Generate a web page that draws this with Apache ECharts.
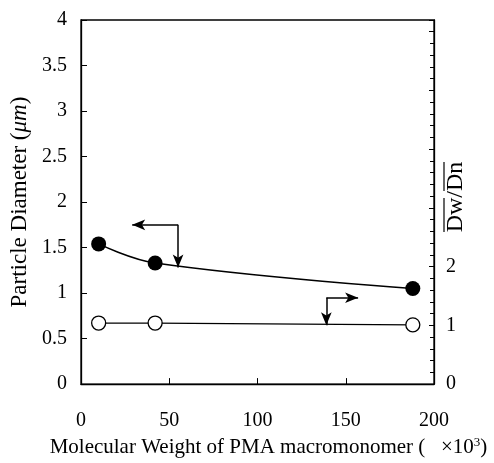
<!DOCTYPE html>
<html>
<head>
<meta charset="utf-8">
<script src="https://cdn.jsdelivr.net/npm/echarts@6/dist/echarts.min.js"></script>
<style>
  html, body { margin: 0; padding: 0; background: #fff; }
  #chart { width: 494px; height: 463px; }
</style>
</head>
<body>
<div id="chart"></div>
<script>
// 読み取った値
const molWeight = [10, 42, 188];          // x (×10^3)
const diameter = [1.54, 1.33, 1.05];      // 左軸 Particle Diameter (μm)
const dwdn = [1.04, 1.04, 1.01];          // 右軸 Dw/Dn
const leftTicks = [0, 4, 0.5];            // min, max, interval
const rightTicks = [0, 6.2, 1];
const rightShown = [0, 1, 2];

// 矢印（データ座標）
const arrowLeft = [[55, 1.75], [29, 1.75], [55, 1.28]];
const arrowRight = [[139, 1.47], [157, 1.47], [139, 1.0]];

const font = 'Liberation Serif';
const chart = echarts.init(document.getElementById('chart'));

function arrowLines(pts) {
  return [
    [{ coord: pts[0], symbol: 'none' }, { coord: pts[1], symbol: 'arrow' }],
    [{ coord: pts[0], symbol: 'none' }, { coord: pts[2], symbol: 'arrow' }]
  ];
}

const option = {
  animation: false,
  grid: { left: 81, right: 60, top: 20, bottom: 77, show: true, borderColor: '#000', borderWidth: 1.3 },
  xAxis: {
    type: 'value', min: 0, max: 200, interval: 50,
    splitLine: { show: false },
    axisLine: { lineStyle: { color: '#000', width: 1.3 } },
    axisTick: { inside: true, length: 6, lineStyle: { color: '#000' } },
    axisLabel: { color: '#000', fontFamily: font, fontSize: 20, margin: 27 },
    name: 'Molecular Weight of PMA macromonomer (   ×10{s|3})',
    nameLocation: 'middle', nameGap: 49,
    nameTextStyle: {
      color: '#000', fontFamily: font, fontSize: 21, padding: [0, 0, 0, 22],
      rich: { s: { fontFamily: font, fontSize: 13, verticalAlign: 'top', padding: [0, 0, 10, 0] } }
    }
  },
  yAxis: [{
    type: 'value', min: leftTicks[0], max: leftTicks[1], interval: leftTicks[2],
    splitLine: { show: false },
    axisLine: { lineStyle: { color: '#000', width: 1.3 } },
    axisTick: { inside: true, length: 6, lineStyle: { color: '#000' } },
    axisLabel: { color: '#000', fontFamily: font, fontSize: 20, margin: 14 },
    name: 'Particle Diameter ({i|μm})',
    nameLocation: 'middle', nameRotate: 90, nameGap: 46,
    nameTextStyle: {
      color: '#000', fontFamily: font, fontSize: 23,
      rich: { i: { fontFamily: font, fontSize: 23, fontStyle: 'italic', color: '#000' } }
    }
  }, {
    type: 'value', position: 'right', min: rightTicks[0], max: rightTicks[1], interval: rightTicks[2],
    splitLine: { show: false },
    axisLine: { show: true, lineStyle: { color: '#000', width: 1.3 } },
    axisTick: { show: true, inside: true, length: 5, lineStyle: { color: '#000' } },
    minorTick: { show: true, splitNumber: 5, length: 4, lineStyle: { color: '#000' } },
    axisLabel: {
      color: '#000', fontFamily: font, fontSize: 20, margin: 12, showMaxLabel: false,
      formatter: v => rightShown.indexOf(v) >= 0 ? String(v) : ''
    }
  }],
  graphic: [{
    type: 'group', x: 456, y: 197, rotation: Math.PI / 2,
    children: [
      { type: 'text', style: { text: 'Dw/Dn', x: 0, y: 0, align: 'center', verticalAlign: 'middle',
          fontFamily: font, fontSize: 24, fill: '#000' } },
      { type: 'line', shape: { x1: -35, y1: -12, x2: -1, y2: -12 }, style: { stroke: '#000', lineWidth: 1.2 } },
      { type: 'line', shape: { x1: 6, y1: -12, x2: 35, y2: -12 }, style: { stroke: '#000', lineWidth: 1.2 } }
    ]
  }],
  series: [{
    type: 'line', yAxisIndex: 0,
    data: molWeight.map((x, i) => [x, diameter[i]]),
    smooth: 0.4,
    symbol: 'circle', symbolSize: 15,
    itemStyle: { color: '#000' },
    lineStyle: { color: '#000', width: 1.5 },
    silent: true,
    markLine: {
      silent: true, symbolSize: [8, 13],
      label: { show: false },
      lineStyle: { color: '#000', width: 1.5, type: 'solid' },
      data: arrowLines(arrowLeft)
    }
  }, {
    type: 'line', yAxisIndex: 1,
    data: molWeight.map((x, i) => [x, dwdn[i]]),
    symbol: 'circle', symbolSize: 14,
    itemStyle: { color: '#fff', borderColor: '#000', borderWidth: 1.3 },
    lineStyle: { color: '#000', width: 1.3 },
    silent: true,
    markLine: {
      silent: true, symbolSize: [8, 13],
      label: { show: false },
      lineStyle: { color: '#000', width: 1.5, type: 'solid' },
      data: arrowLines(arrowRight)
    }
  }]
};

chart.setOption(option);
window.addEventListener('resize', chart.resize);
</script>
</body>
</html>
